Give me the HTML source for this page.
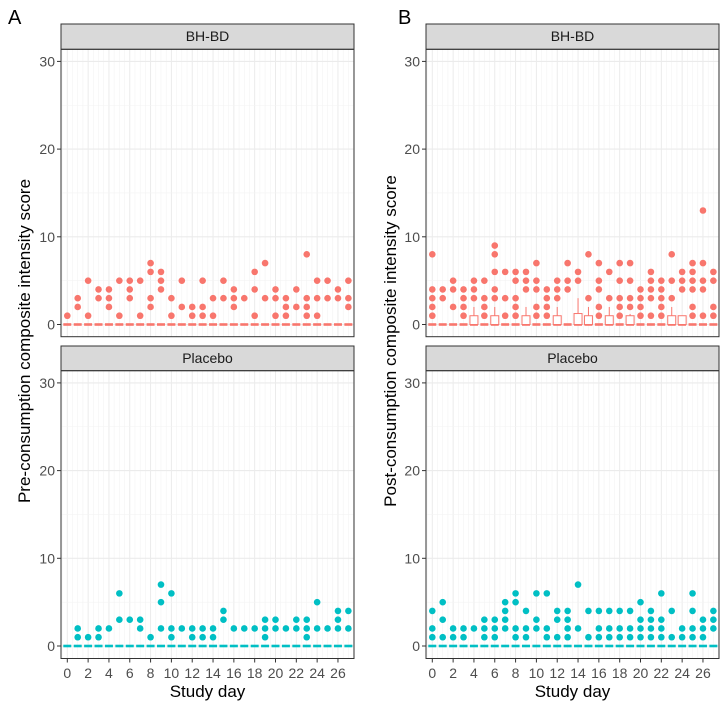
<!DOCTYPE html>
<html><head><meta charset="utf-8"><style>
body{margin:0;background:#fff;}
svg{display:block;font-family:"Liberation Sans",Arial,sans-serif;}
</style></head><body>
<svg id="chart" width="728" height="707" viewBox="0 0 728 707"></svg>
<script>
const days = [0,1,2,3,4,5,6,7,8,9,10,11,12,13,14,15,16,17,18,19,20,21,22,23,24,25,26,27];
const xTicks = [0,2,4,6,8,10,12,14,16,18,20,22,24,26];
const yTicks = [0,10,20,30];
const preBH = [[1],[3,2],[5,1],[4,3],[4,3,2],[5,1],[5,4,3],[5,1],[7,6,3,2],[6,5,4],[3,1],[5,2],[2,1],[5,2,1],[3,1],[5,3],[4,3,2],[3],[6,4,1],[7,3],[4,3,1],[3,2,1],[4,2],[8,3,2,1],[5,3,1],[5,3],[4,3],[5,3,2]];
const prePl = [[],[2,1],[1],[2,1],[2],[6,3],[3],[3,2],[1],[7,5,2],[6,2,1],[2],[2,1],[2,1],[2,1],[4,3],[2],[2],[2],[3,2,1],[3,2],[2],[3,2],[3,2,1],[5,2],[2],[4,3,2],[4,2]];
const postBH = [[8,4,3,2,1],[4,3],[5,4,2],[4,3,2,1],[5,4,3],[5,3,2,1],[9,8,6,4,3],[6,3,1],[6,5,3,2,1],[6,5,4],[7,5,4,2,1],[4,3,2,1],[5,4,3],[7,5,4],[6,5],[8,3],[7,5,4,2,1],[6,3],[7,5,3,2,1],[7,5,3,2],[4,3,2,1],[6,5,4,3,1],[5,4,3,2,1],[8,5,3],[6,5,4],[7,6,5,4,2,1],[13,7,5,4,1],[6,5,2,1]];
const postPl = [[4,2,1],[5,3,1],[2,1],[2,1],[2],[3,2,1],[3,2,1],[5,4,3,2],[6,5,2,1],[4,2,1],[6,3,2],[6,2,1],[4,3,1],[4,3,2,1],[7,2],[4,1],[4,2,1],[4,2,1],[4,2,1],[4,2,1],[5,3,2,1],[4,3,2,1],[6,3,2,1],[4,1],[2,1],[6,4,2,1],[3,2,1],[4,3,2]];
const boxDays = [4,6,9,12,14,15,17,19,23,24];
const boxQ3 = [1,1,1,1,1.25,1,1,1,1,1];
const boxWhisk = [2,2,2,2,3,2,2,1.2,2,1];

const NS="http://www.w3.org/2000/svg";
const svg=document.getElementById('chart');
function el(tag,attrs,parent){const e=document.createElementNS(NS,tag);for(const k in attrs)e.setAttribute(k,attrs[k]);(parent||svg).appendChild(e);return e;}
const RED="#F8766D", TEAL="#00BFC4";
const facets=[
 {x0:61,x1:354,top:true,name:'BH-BD',data:preBH,col:RED,box:false,key:'pre-bhbd'},
 {x0:61,x1:354,top:false,name:'Placebo',data:prePl,col:TEAL,box:false,key:'pre-placebo'},
 {x0:426,x1:719,top:true,name:'BH-BD',data:postBH,col:RED,box:true,key:'post-bhbd'},
 {x0:426,x1:719,top:false,name:'Placebo',data:postPl,col:TEAL,box:false,key:'post-placebo'}];
facets.forEach(f=>{
 const sTop=f.top?24:346, pTop=f.top?49.3:370.7, pBot=f.top?336.7:658.5, zeroY=f.top?324.5:646;
 const xs=d=>f.x0+6.3+10.41*d;
 const ys=v=>zeroY-8.77*v;
 const g=el('g',{});
 
 
 // grid
 for(let d=-0.5;d<=27.5;d+=0.5){const x=xs(d);if(x<f.x0||x>f.x1)continue;
   el('line',{x1:x,x2:x,y1:pTop,y2:pBot,stroke:(d%2===0)?'#ebebeb':'#f3f3f3','stroke-width':(d%2===0)?1:0.6},g);}
 [5,15,25].forEach(v=>el('line',{x1:f.x0,x2:f.x1,y1:ys(v),y2:ys(v),stroke:'#f3f3f3','stroke-width':0.6},g));
 yTicks.forEach(v=>{el('line',{x1:f.x0,x2:f.x1,y1:ys(v),y2:ys(v),stroke:'#ebebeb','stroke-width':1.1},g);
   el('line',{x1:f.x0-4,x2:f.x0,y1:ys(v),y2:ys(v),stroke:'#333','stroke-width':1},g);
   const t=el('text',{x:f.x0-6,y:ys(v)+5,'text-anchor':'end','font-size':14,fill:'#4d4d4d'},g);t.textContent=v;
   
   });
 // strip
 const s=el('rect',{x:f.x0,y:sTop,width:f.x1-f.x0,height:pTop-sTop,fill:'#d9d9d9',stroke:'#333','stroke-width':1},g);
 
 
 const st=el('text',{x:(f.x0+f.x1)/2,y:sTop+17,'text-anchor':'middle','font-size':14,fill:'#1a1a1a'},g);st.textContent=f.name;
 
 
 // zero dashes
 days.forEach(d=>{const r=el('rect',{x:xs(d)-4,y:zeroY-1.3,width:8,height:2.6,fill:f.col},g);
   
   });
 if(f.box){boxDays.forEach((d,i)=>{const x=xs(d);
   el('line',{x1:x,x2:x,y1:ys(boxQ3[i]),y2:ys(boxWhisk[i]),stroke:f.col,'stroke-width':1},g);
   const b=el('rect',{x:x-4,y:ys(boxQ3[i]),width:8,height:zeroY-ys(boxQ3[i]),fill:'#fff',stroke:f.col,'stroke-width':1},g);
   
   });}
 // points
 f.data.forEach((vals,d)=>vals.forEach(v=>{const c=el('circle',{cx:xs(days[d]),cy:ys(v),r:3.3,fill:f.col},g);
   
   }));
 el('rect',{x:f.x0,y:pTop,width:f.x1-f.x0,height:pBot-pTop,fill:'none',stroke:'#333','stroke-width':1},g);
 if(!f.top){xTicks.forEach(d=>{const x=xs(d);el('line',{x1:x,x2:x,y1:pBot,y2:pBot+4,stroke:'#333'},g);
   const t=el('text',{x:x,y:678,'text-anchor':'middle','font-size':14,fill:'#4d4d4d'},g);t.textContent=d;
   
   });
   const xt=el('text',{x:(f.x0+f.x1)/2,y:697,'text-anchor':'middle','font-size':17,fill:'#000'},g);xt.textContent='Study day';
   
   }
});
[[8,'A',30,'Pre-consumption composite intensity score'],[398,'B',396,'Post-consumption composite intensity score']].forEach(a=>{
 const t=el('text',{x:a[0],y:24,'font-size':20,fill:'#000'});t.textContent=a[1];
 
 
 const yt=el('text',{x:0,y:0,transform:`translate(${a[2]},341) rotate(-90)`,'text-anchor':'middle','font-size':17,fill:'#000'});yt.textContent=a[3];
 
 
});
</script>
</body></html>
